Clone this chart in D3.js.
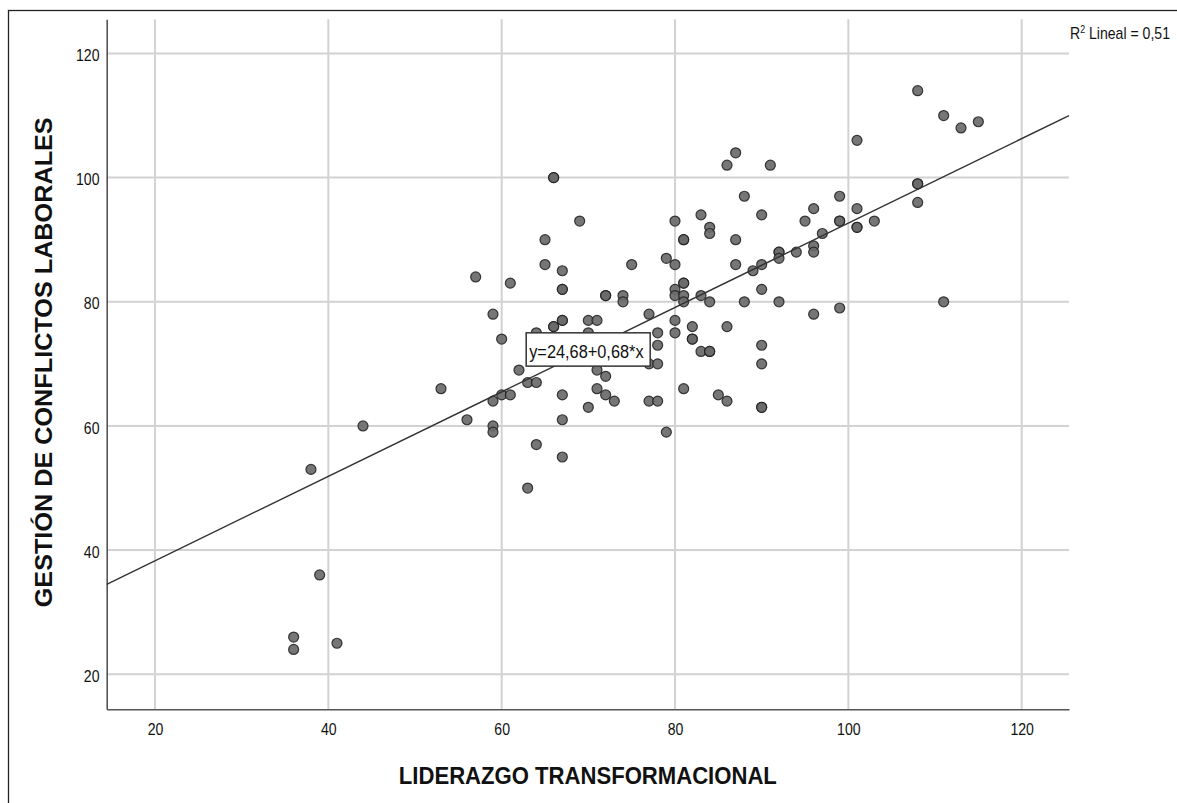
<!DOCTYPE html>
<html>
<head>
<meta charset="utf-8">
<script src="https://cdn.jsdelivr.net/npm/d3@7"></script>
<style>
  html, body { margin: 0; padding: 0; background: #fff; }
  svg { display: block; }
  text { font-family: "Liberation Sans", Arial, sans-serif; fill: #111; }
</style>
</head>
<body>
<svg id="chart" width="1177" height="803"></svg>
<script>
// ---- data ----
const liderazgo = [36,36,41,39,38,44,53,56,57,59,59,59,59,60,60,61,61,62,63,63,64,64,64,65,65,66,66,66,66,67,67,67,67,67,67,67,67,69,70,70,70,71,71,71,72,72,72,72,73,74,74,75,77,77,77,78,78,78,78,79,79,80,80,80,80,80,80,81,81,81,81,81,81,81,82,82,82,83,83,83,84,84,84,84,84,85,86,86,86,87,87,87,88,88,89,90,90,90,90,90,90,90,91,92,92,92,92,94,95,96,96,96,96,97,99,99,99,99,101,101,101,101,103,108,108,108,108,111,111,113,115];
const gestion   = [24,26,25,36,53,60,66,61,84,78,64,60,59,65,74,65,83,69,67,50,67,57,75,90,86,100,100,76,76,85,82,82,77,77,65,61,55,93,77,75,63,77,69,66,81,81,68,65,64,81,80,86,78,70,64,75,73,70,64,87,59,93,86,82,81,77,75,90,90,83,83,81,80,66,76,74,74,94,81,72,92,91,80,72,72,65,102,76,64,104,90,86,97,80,85,94,86,82,73,70,63,63,102,88,88,87,80,88,93,95,89,88,78,91,97,93,93,79,106,95,92,92,93,114,99,99,96,110,80,108,109];
const xTicks = [20, 40, 60, 80, 100, 120];
const yTicks = [20, 40, 60, 80, 100, 120];
const fitIntercept = 24.68;
const fitSlope = 0.68;
const r2Value = "0,51";
const xTitle = "LIDERAZGO TRANSFORMACIONAL";
const yTitle = "GESTIÓN DE CONFLICTOS LABORALES";
const equationLabel = "y=24,68+0,68*x";
const equationAnchor = [62.83, 75.0];   // data coords of label box top-left

// ---- layout ----
const pL = 106.7, pR = 1069, pT = 19.3, pB = 709.3;
const xDomain = [14.43, 125.46];
const yDomain = [14.36, 125.5];

const svg = d3.select("#chart");
const x = d3.scaleLinear().domain(xDomain).range([pL, pR]);
const y = d3.scaleLinear().domain(yDomain).range([pB, pT]);

// outer frame
svg.append("rect")
  .attr("x", 8.5).attr("y", 10.5).attr("width", 1300).attr("height", 900)
  .attr("fill", "none").attr("stroke", "#222").attr("stroke-width", 1.3);

// gridlines
const grid = svg.append("g");
grid.selectAll("line.v").data(xTicks).join("line").attr("class", "v")
  .attr("x1", d => x(d)).attr("x2", d => x(d))
  .attr("y1", pT).attr("y2", pB)
  .attr("stroke", "#d2d2d2").attr("stroke-width", 2);
grid.selectAll("line.h").data(yTicks).join("line").attr("class", "h")
  .attr("x1", pL).attr("x2", pR)
  .attr("y1", d => y(d)).attr("y2", d => y(d))
  .attr("stroke", "#d2d2d2").attr("stroke-width", 2);

// axes
const xAxis = svg.append("g").attr("transform", `translate(0,${pB})`)
  .call(d3.axisBottom(x).tickValues(xTicks).tickSize(0).tickSizeOuter(0).tickPadding(14));
const yAxis = svg.append("g").attr("transform", `translate(${pL},0)`)
  .call(d3.axisLeft(y).tickValues(yTicks).tickSize(0).tickSizeOuter(0).tickPadding(7.2));
[xAxis, yAxis].forEach(a => {
  a.select(".domain").attr("stroke", "#555").attr("stroke-width", 1.6);
  a.selectAll("text")
    .attr("font-family", "'Liberation Sans', Arial, sans-serif")
    .attr("font-size", 16).attr("fill", "#222");
});
yAxis.selectAll("text").attr("dy", "0.45em");
[xAxis, yAxis].forEach(a => {
  a.selectAll("text").each(function() {
    const t = d3.select(this);
    const tx = +t.attr("x") || 0;
    t.attr("x", 0).attr("transform", `translate(${tx},0) scale(0.88,1)`);
  });
});

// points
svg.append("g").selectAll("circle").data(liderazgo.map((v, i) => [v, gestion[i]])).join("circle")
  .attr("cx", d => x(d[0])).attr("cy", d => y(d[1])).attr("r", 5)
  .attr("fill", "#6a6a6a").attr("fill-opacity", 0.92)
  .attr("stroke", "#1e1e1e").attr("stroke-opacity", 0.85).attr("stroke-width", 1.2);

// fit line
svg.append("line")
  .attr("x1", x(xDomain[0])).attr("y1", y(fitIntercept + fitSlope * xDomain[0]))
  .attr("x2", x(xDomain[1])).attr("y2", y(fitIntercept + fitSlope * xDomain[1]))
  .attr("stroke", "#333").attr("stroke-width", 1.4);

// equation label box
const bx = x(equationAnchor[0]), by = y(equationAnchor[1]);
svg.append("rect").attr("x", bx).attr("y", by).attr("width", 124).attr("height", 33.3)
  .attr("fill", "#fff").attr("stroke", "#333").attr("stroke-width", 1.5);
svg.append("text")
  .attr("transform", `translate(${bx + 3},${by + 25.6}) scale(0.86,1)`)
  .attr("font-size", 19).attr("fill", "#222").text(equationLabel);

// R² label
const r2 = svg.append("text").attr("transform", `translate(1070,39.3) scale(0.88,1)`)
  .attr("font-size", 16).attr("fill", "#222");
r2.append("tspan").text("R");
r2.append("tspan").attr("font-size", 10).attr("dy", -6).text("2");
r2.append("tspan").attr("dy", 6).text(" Lineal = " + r2Value);

// axis titles
svg.append("text")
  .attr("x", (pL + pR) / 2).attr("y", 784).attr("text-anchor", "middle")
  .attr("font-size", 24).attr("font-weight", "bold")
  .attr("textLength", 378).attr("lengthAdjust", "spacingAndGlyphs")
  .attr("fill", "#111").text(xTitle);
svg.append("text")
  .attr("transform", `translate(52,${(pT + pB) / 2 - 2}) rotate(-90)`)
  .attr("text-anchor", "middle")
  .attr("font-size", 23).attr("font-weight", "bold")
  .attr("textLength", 490).attr("lengthAdjust", "spacingAndGlyphs")
  .attr("fill", "#111").text(yTitle);
</script>
</body>
</html>
